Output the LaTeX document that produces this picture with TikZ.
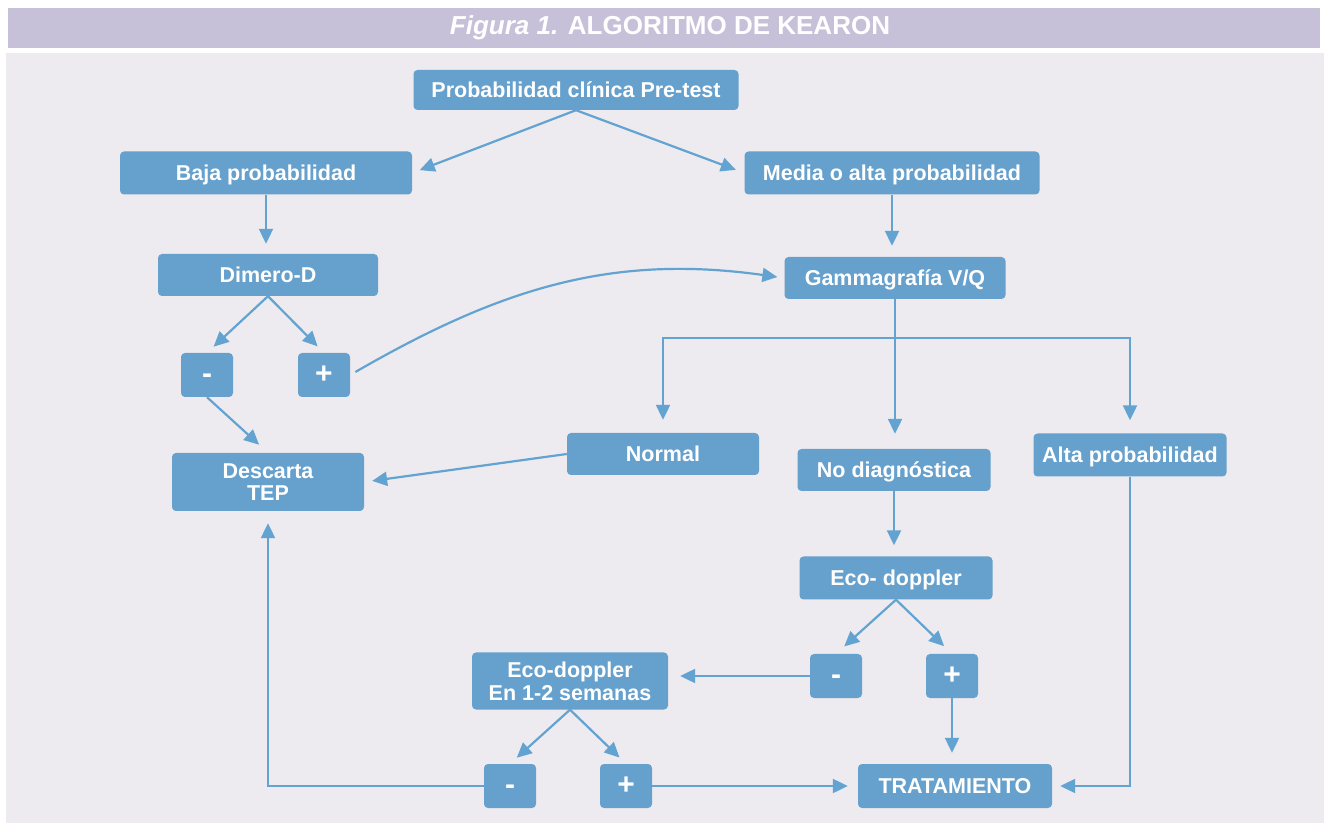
\documentclass[tikz,border=0pt]{standalone}
\usepackage{fontspec}
\setmainfont{Liberation Sans}
\usetikzlibrary{arrows.meta,positioning,calc}
\definecolor{kblue}{RGB}{102,160,204}
\definecolor{kline}{RGB}{98,163,210}
\definecolor{kpanel}{RGB}{237,235,239}
\definecolor{khead}{RGB}{198,193,216}

\begin{document}
\begin{tikzpicture}[x=1pt,y=1pt,
    box/.style={fill=kblue,rounded corners=4pt,text=white,align=center,inner sep=0pt,
        text height=15.4pt,text depth=0pt,font=\fontsize{21.5}{22}\selectfont\bfseries},
    sign/.style={box,minimum width=52pt,minimum height=44pt,text height=17pt,
        font=\fontsize{30}{30}\selectfont\bfseries},
    arr/.style={-{Triangle[length=15pt,width=14pt]},line width=2.2pt,draw=kline}]
    \useasboundingbox (0,0) rectangle (1329,827);
    \fill[white] (0,0) rectangle (1329,827);
    \fill[kpanel] (6,4) rectangle (1324,774);
    \fill[khead] (8,779) rectangle (1320,819);
    \node[text=white,font=\fontsize{26}{28}\selectfont\bfseries] (title) at (670,799) {\textit{Figura 1.} ALGORITMO DE KEARON};

    \node[box,minimum width=325pt,minimum height=40pt] (pretest) at (576,737) {Probabilidad clínica Pre-test};
    \node[box,minimum width=292pt,minimum height=43pt] (baja) at (266,654) {Baja probabilidad};
    \node[box,minimum width=295pt,minimum height=43pt] (media) at (892,654) {Media o alta probabilidad};
    \node[box,minimum width=220pt,minimum height=42pt] (dimero) at (268,552) {Dimero-D};
    \node[box,minimum width=221pt,minimum height=42pt] (gamma) at (895,549) {Gammagrafía V/Q};
    \node[sign] (minusA) at (207,452) {-};
    \node[sign] (plusA) at (324,452) {+};
    \node[box,minimum width=192pt,minimum height=58pt,text height=37.4pt] (descarta) at (268,345) {Descarta\\TEP};
    \node[box,minimum width=192pt,minimum height=42pt] (normal) at (663,373) {Normal};
    \node[box,minimum width=193pt,minimum height=42pt] (nodiag) at (894,357) {No diagnóstica};
    \node[box,minimum width=193pt,minimum height=43pt] (alta) at (1130,372) {Alta probabilidad};
    \node[box,minimum width=193pt,minimum height=43pt] (eco) at (896,249) {Eco- doppler};
    \node[sign] (minusB) at (836,151) {-};
    \node[sign] (plusB) at (952,151) {+};
    \node[box,minimum width=196pt,minimum height=57pt,text height=38.4pt,
        font=\fontsize{21.5}{23}\selectfont\bfseries] (ecolater) at (570,146) {Eco-doppler\\En 1-2 semanas};
    \node[sign] (minusC) at (510,41) {-};
    \node[sign] (plusC) at (626,41) {+};
    \node[box,minimum width=194pt,minimum height=44pt] (trat) at (955,41) {TRATAMIENTO};
    \coordinate (split) at (895,489);

    \draw[arr,shorten >=8pt] (pretest.south) -- (baja.east);
    \draw[arr,shorten >=9pt] (pretest.south) -- (media.west);
    \draw[arr,shorten >=10pt] (baja.south) -- (baja.south |- dimero.north);
    \draw[arr,shorten >=11pt] (media.south) -- (media.south |- gamma.north);
    \draw[arr,shorten >=9pt] (dimero.south) -- (minusA.north);
    \draw[arr,shorten >=9pt] (dimero.south) -- (plusA.north);
    \draw[arr,shorten >=12pt] (minusA.south) -- (descarta.north);
    \draw[arr,shorten <=6pt,shorten >=7pt] (plusA.east) to[out=30,in=172] (gamma.west);
    \draw[arr,shorten >=15pt] (gamma.south) -- (gamma.south |- nodiag.north);
    \draw[arr,shorten >=13pt] (split) -| (normal.north);
    \draw[arr,shorten >=13pt] (split) -| (alta.north);
    \draw[arr,shorten >=8pt] (normal.west) -- (descarta.east);
    \draw[arr,shorten >=8pt] (alta.south) |- (trat.east);
    \draw[arr,shorten >=11pt] (nodiag.south) -- (nodiag.south |- eco.north);
    \draw[arr,shorten >=11pt] (eco.south) -- (minusB.north);
    \draw[arr,shorten >=11pt] (eco.south) -- (plusB.north);
    \draw[arr,shorten >=12pt] (minusB.west) -- (minusB.west -| ecolater.east);
    \draw[arr,shorten >=11pt] (plusB.south) -- (trat.north -| plusB.south);
    \draw[arr,shorten >=9pt] (ecolater.south) -- (minusC.north);
    \draw[arr,shorten >=9pt] (ecolater.south) -- (plusC.north);
    \draw[arr,shorten >=10pt] (plusC.east) -- (trat.west);
    \draw[arr,shorten >=12pt] (minusC.west) -| (descarta.south);
\end{tikzpicture}
\end{document}
